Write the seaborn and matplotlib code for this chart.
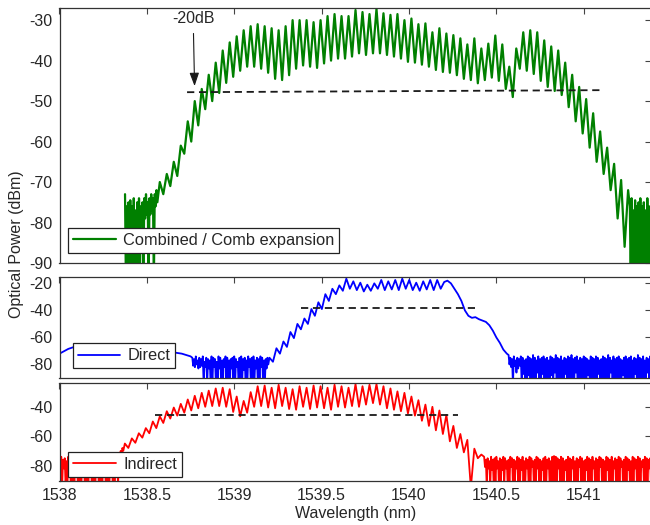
import numpy as np
import pandas as pd
import matplotlib
matplotlib.use("Agg")
import matplotlib.pyplot as plt
import seaborn as sns

# ---------------- data (dBm values) ----------------
COMB_HALF_STEP = 0.02     # nm between a comb peak and the next trough
NOISE_HALF_STEP = 0.005   # nm between a noise top and the next noise bottom

# Combined / Comb expansion (green)
top_left_noise_start = 1538.375
top_left_noise_tops = [-73, -76, -75, -74.5, -76, -74, -77, -75, -74, -76,
                       -75, -74, -73, -75, -74, -73, -74, -73, -72]
top_left_noise_bottoms = [-95, -95, -95, -95, -95, -95, -95, -95, -95, -80,
                          -95, -79, -78, -95, -78, -77, -95, -76, -75]
top_comb_start = 1538.574
top_peaks = [-70, -68, -65, -61, -55, -50, -47, -43.5, -40.5, -37.5,
             -35.5, -34, -32.5, -31.5, -31, -31.5, -32, -32.5, -31.5, -30,
             -30, -30, -30.5, -30, -29, -28.5, -29, -29, -27.5, -28,
             -28.5, -27.2, -28.3, -28.7, -28.5, -30, -29.6, -31, -30.8, -33,
             -32, -33.3, -33.7, -34.5, -36, -34.5, -37, -35.8, -33.8, -36,
             -41.5, -37, -33, -32.5, -33, -35, -36.5, -37.5, -40.5, -43.5,
             -46.5, -49.5, -53, -57.5, -61.5, -65.5, -69.5, -72]
top_troughs = [-73, -71, -68.5, -63, -60, -56, -52, -50, -48, -45.5,
               -44, -42.5, -41.5, -41.5, -42, -43, -44.5, -44.8, -43.6, -42,
               -41.2, -41.5, -41.8, -40.7, -40, -39.5, -39.5, -39, -38.2, -38.6,
               -38.2, -38.2, -38.6, -39, -39.5, -40.3, -40.5, -41, -41.5, -42.3,
               -42.8, -43, -43.6, -44.5, -44.8, -45.6, -44.8, -44.2, -45, -47,
               -49, -42, -42.5, -43.3, -45, -46.5, -47.5, -48.5, -51.5, -55,
               -58, -61.5, -65, -68, -72, -79, -86]
top_right_noise_start = 1541.264
top_right_noise_tops = [-76, -74, -77, -74.5, -76, -75, -74, -76, -75, -77, -74, -76]
top_right_noise_bottoms = [-95, -95, -95, -95, -95, -95, -95, -95, -95, -95, -95, -95]
top_dash_x = [1538.73, 1541.09]
top_dash_y = [-47.8, -47.3]

# Direct (blue)
blue_smooth_start = 1538.0
blue_smooth_step = 0.05
blue_smooth = [-72, -68.5, -66.3, -65.5, -65.5, -66, -66.5, -67, -67.5, -68,
               -68.5, -69, -70, -71, -72, -74]
blue_left_noise_start = 1538.76
blue_left_noise_tops = [-75, -76, -74, -77, -75, -76, -74, -78, -75, -76,
                        -77, -74, -75, -76, -78, -74, -75, -77, -76, -74,
                        -75, -77, -76, -75, -74, -76, -78, -75, -74, -76,
                        -75, -77, -74, -76, -75, -74, -77, -75, -76, -74,
                        -75, -77, -76, -75]
blue_left_noise_bottoms = [-81, -82, -80, -83, -82, -81, -95, -82, -95, -83,
                           -95, -95, -82, -95, -95, -83, -95, -95, -82, -95,
                           -95, -95, -83, -95, -95, -82, -95, -95, -95, -84,
                           -95, -95, -82, -95, -95, -95, -83, -95, -95, -82,
                           -95, -95, -83, -80]
blue_comb_start = 1539.2015
blue_peaks = [-75, -68, -63, -56, -50, -46, -39, -34, -28, -24,
              -21.5, -16.5, -18.5, -19.5, -21, -20, -17.5, -18.5, -17.5, -16.5,
              -17.5, -19.5, -18.5, -17.5, -17.5, -19]
blue_troughs = [-78, -72, -67, -60.5, -54, -50, -44, -39, -33, -28,
                -25.5, -24, -25, -26, -25.5, -24, -25, -24.5, -25, -24,
                -25, -25.5, -24.5, -25, -24]
blue_tail_start = 1540.22
blue_tail = [-18, -20, -24, -28, -33, -40, -44, -45.5, -45, -46.5,
             -47.5, -48.5, -51, -55, -60, -64, -69, -72]
blue_right_noise_start = 1540.57
blue_right_noise_tops = [-73, -75, -76, -74, -77, -75, -76, -74, -75, -77,
                         -76, -74, -75, -76, -73, -75, -77, -74, -76, -75,
                         -74, -76, -75, -77, -74, -75, -76, -73, -75, -76,
                         -74, -77, -75, -76, -74, -75, -73, -76, -75, -74,
                         -77, -75, -76, -74, -75, -76, -77, -74, -75, -76,
                         -74, -75, -77, -76, -74, -75, -76, -73, -75, -77,
                         -74, -76, -75, -74, -76, -77, -75, -74, -76, -75,
                         -74, -77, -75, -76, -73, -75, -76, -74, -77, -75,
                         -76, -74]
blue_right_noise_bottoms = [-80, -82, -95, -81, -86, -83, -81, -95, -87, -95,
                            -95, -88, -95, -95, -95, -95, -86, -95, -95, -87,
                            -95, -95, -95, -95, -88, -95, -86, -95, -95, -95,
                            -95, -95, -87, -95, -95, -95, -95, -95, -86, -95,
                            -95, -95, -95, -95, -95, -88, -95, -95, -95, -95,
                            -95, -87, -95, -95, -95, -95, -95, -95, -86, -95,
                            -95, -95, -95, -95, -95, -88, -95, -95, -95, -95,
                            -95, -95, -87, -95, -95, -95, -95, -95, -95, -86,
                            -95, -95]
blue_dash_x = [1539.38, 1540.38]
blue_dash_y = [-38.3, -38.3]

# Indirect (red)
red_left_noise_start = 1538.0
red_left_noise_tops = [-73, -74, -76, -75, -77, -74, -76, -78, -75, -77,
                       -76, -74, -78, -75, -77, -76, -79, -75, -77, -76,
                       -78, -75, -76, -77, -74, -76, -78, -75, -77, -76,
                       -74, -75, -76, -73, -72, -70, -68]
red_left_noise_bottoms = [-95, -95, -82, -95, -95, -83, -95, -95, -95, -82,
                          -95, -95, -95, -83, -95, -95, -95, -82, -95, -95,
                          -95, -83, -95, -95, -95, -82, -95, -95, -95, -83,
                          -95, -95, -80, -95, -76, -73, -70]
red_comb_start = 1538.374
red_peaks = [-65, -61.5, -58, -54.5, -50, -46.5, -43, -40.5, -38, -35,
             -32.5, -30.5, -29, -27.5, -27, -28, -33, -36, -30, -26,
             -25.5, -27, -25, -27, -28, -26, -27, -25.5, -26, -27,
             -25, -26, -27, -24.5, -26, -25, -24.5, -26, -27.5, -29.5,
             -30.5, -33, -35.5, -38.5, -40, -42.5, -45.5, -53, -58.5, -62.5,
             -68.5, -72.5]
red_troughs = [-68, -64.5, -61, -58, -54.5, -51, -48, -46, -44, -42.5,
               -41, -40, -39.5, -39.5, -40, -43.5, -46.5, -44, -40, -39.5,
               -40.5, -41, -39.5, -41.5, -42, -40, -41.5, -40.5, -41, -42,
               -40, -40.5, -39.5, -40, -38.5, -37.5, -38.5, -41, -42, -43,
               -44.5, -46, -49.5, -53, -56, -58.5, -63.5, -68, -71, -95,
               -75]
red_right_noise_start = 1540.43
red_right_noise_tops = [-74, -76, -75, -77, -74, -76, -75, -74, -77, -75,
                        -76, -74, -75, -77, -76, -74, -75, -76, -77, -74,
                        -75, -76, -74, -77, -75, -76, -74, -75, -77, -76,
                        -74, -75, -76, -77, -75, -74, -76, -75, -77, -74,
                        -73.5, -74, -75, -76, -74, -75, -77, -76, -74, -75,
                        -76, -74, -77, -75, -76, -74, -75, -77, -76, -74,
                        -75, -76, -74, -77, -75, -76, -74, -75, -76, -77,
                        -74, -75, -76, -74, -77, -75, -76, -74, -75, -77,
                        -76, -74, -75, -76, -77, -74, -75, -76, -74, -75,
                        -77, -76, -74, -75, -76, -75]
red_right_noise_bottoms = [-81, -95, -82, -95, -83, -95, -95, -82, -95, -95,
                           -83, -95, -82, -95, -95, -81, -95, -95, -82, -95,
                           -95, -83, -95, -95, -82, -95, -95, -81, -95, -95,
                           -82, -95, -95, -83, -95, -95, -82, -95, -95, -95,
                           -95, -95, -82, -95, -95, -95, -83, -95, -95, -95,
                           -82, -95, -95, -95, -81, -95, -95, -95, -83, -95,
                           -95, -95, -82, -95, -95, -95, -81, -95, -95, -95,
                           -83, -95, -95, -95, -82, -95, -95, -95, -81, -95,
                           -95, -95, -83, -95, -95, -95, -82, -95, -95, -95,
                           -81, -95, -95, -95, -82, -95]
red_dash_x = [1538.545, 1540.28]
red_dash_y = [-45.8, -45.8]

x_ticks = [1538, 1538.5, 1539, 1539.5, 1540, 1540.5, 1541]
x_tick_labels = ['1538', '1538.5', '1539', '1539.5', '1540', '1540.5', '1541']
top_yticks = [-90, -80, -70, -60, -50, -40, -30]
mid_yticks = [-80, -60, -40, -20]
bot_yticks = [-80, -60, -40]


# ---------------- helpers ----------------
def seg(start, step, values):
    return list(start + step * np.arange(len(values))), list(values)


def interleave(highs, lows):
    out = []
    for i, p in enumerate(highs):
        out.append(p)
        if i < len(lows):
            out.append(lows[i])
    return out


def build(parts):
    xs, ys = [], []
    for x, y in parts:
        xs += x
        ys += y
    return pd.DataFrame({"Wavelength": xs, "Power": ys})


top_df = build([
    seg(top_left_noise_start, NOISE_HALF_STEP,
        interleave(top_left_noise_tops, top_left_noise_bottoms)),
    seg(top_comb_start, COMB_HALF_STEP, interleave(top_peaks, top_troughs)),
    seg(top_right_noise_start, NOISE_HALF_STEP,
        interleave(top_right_noise_tops, top_right_noise_bottoms)),
])
mid_df = build([
    seg(blue_smooth_start, blue_smooth_step, blue_smooth),
    seg(blue_left_noise_start, NOISE_HALF_STEP,
        interleave(blue_left_noise_tops, blue_left_noise_bottoms)),
    seg(blue_comb_start, COMB_HALF_STEP, interleave(blue_peaks, blue_troughs)),
    seg(blue_tail_start, COMB_HALF_STEP, blue_tail),
    seg(blue_right_noise_start, NOISE_HALF_STEP,
        interleave(blue_right_noise_tops, blue_right_noise_bottoms)),
])
bot_df = build([
    seg(red_left_noise_start, NOISE_HALF_STEP,
        interleave(red_left_noise_tops, red_left_noise_bottoms)),
    seg(red_comb_start, COMB_HALF_STEP, interleave(red_peaks, red_troughs)),
    seg(red_right_noise_start, NOISE_HALF_STEP,
        interleave(red_right_noise_tops, red_right_noise_bottoms)),
])

# ---------------- style ----------------
sns.set_theme(style="white")
plt.rcParams['font.family'] = ['Liberation Sans', 'DejaVu Sans']
plt.rcParams['axes.unicode_minus'] = False
FS = 11.5

W, H = 650, 525
fig = plt.figure(figsize=(6.5, 5.25), dpi=100)


def rect(l, t, r, b):
    return [l / W, 1 - b / H, (r - l) / W, (b - t) / H]


RIGHT = 651.0
ax1 = fig.add_axes(rect(59.5, 8, RIGHT, 263))
ax2 = fig.add_axes(rect(59.5, 277, RIGHT, 378))
ax3 = fig.add_axes(rect(59.5, 383.3, RIGHT, 481))

GREEN, BLUE, RED = "#008000", "#0000ff", "#ff0000"

sns.lineplot(data=top_df, x="Wavelength", y="Power", ax=ax1, color=GREEN,
             linewidth=1.6, sort=False, estimator=None,
             label="Combined / Comb expansion")
ax1.plot(top_dash_x, top_dash_y, color="k", lw=1.3, ls=(0, (4, 2.6)))

sns.lineplot(data=mid_df, x="Wavelength", y="Power", ax=ax2, color=BLUE,
             linewidth=1.3, sort=False, estimator=None, label="Direct")
ax2.plot(blue_dash_x, blue_dash_y, color="k", lw=1.3, ls=(0, (4, 2.6)))

sns.lineplot(data=bot_df, x="Wavelength", y="Power", ax=ax3, color=RED,
             linewidth=1.3, sort=False, estimator=None, label="Indirect")
ax3.plot(red_dash_x, red_dash_y, color="k", lw=1.3, ls=(0, (4, 2.6)))

limits = [(ax1, (-90, -27), top_yticks), (ax2, (-90, -15.3), mid_yticks),
          (ax3, (-90.5, -24), bot_yticks)]
for ax, yl, yt in limits:
    ax.set_xlim(1538, 1541.385)
    ax.set_ylim(*yl)
    ax.set_yticks(yt)
    ax.set_yticklabels([str(v) for v in yt])
    ax.set_xticks(x_ticks)
    ax.set_xlabel("")
    ax.set_ylabel("")
    ax.tick_params(direction="in", top=True, right=True, length=4,
                   width=0.8, color="#444444", labelsize=FS, pad=5)
    for s in ax.spines.values():
        s.set_color("#333333")
        s.set_linewidth(0.9)

ax1.set_xticklabels([])
ax2.set_xticklabels([])
ax3.set_xticklabels(x_tick_labels)
ax3.tick_params(axis="x", pad=5)
ax3.set_xlabel("Wavelength (nm)", fontsize=FS, labelpad=2)

fig.text(0.025, 0.535, "Optical Power (dBm)", rotation=90, ha="center",
         va="center", fontsize=FS)

# annotation
ax1.annotate("-20dB", xy=(1538.773, -46.3), xytext=(1538.765, -29.6),
             ha="center", va="center", fontsize=FS,
             arrowprops=dict(arrowstyle="-|>,head_length=0.7,head_width=0.25",
                             color="k", lw=0.8, shrinkA=3, shrinkB=0))

legend_kw = dict(loc="lower left", borderaxespad=0, fancybox=False,
                 edgecolor="#222222", framealpha=1, fontsize=11.8,
                 handlelength=2.6, handletextpad=0.45, borderpad=0.3)
for ax, anchor in [(ax1, (0.0144, 0.039)), (ax2, (0.0224, 0.096)),
                   (ax3, (0.0149, 0.044))]:
    leg = ax.legend(bbox_to_anchor=anchor, **legend_kw)
    leg.get_frame().set_linewidth(0.9)

fig.savefig("out.png", dpi=100)
